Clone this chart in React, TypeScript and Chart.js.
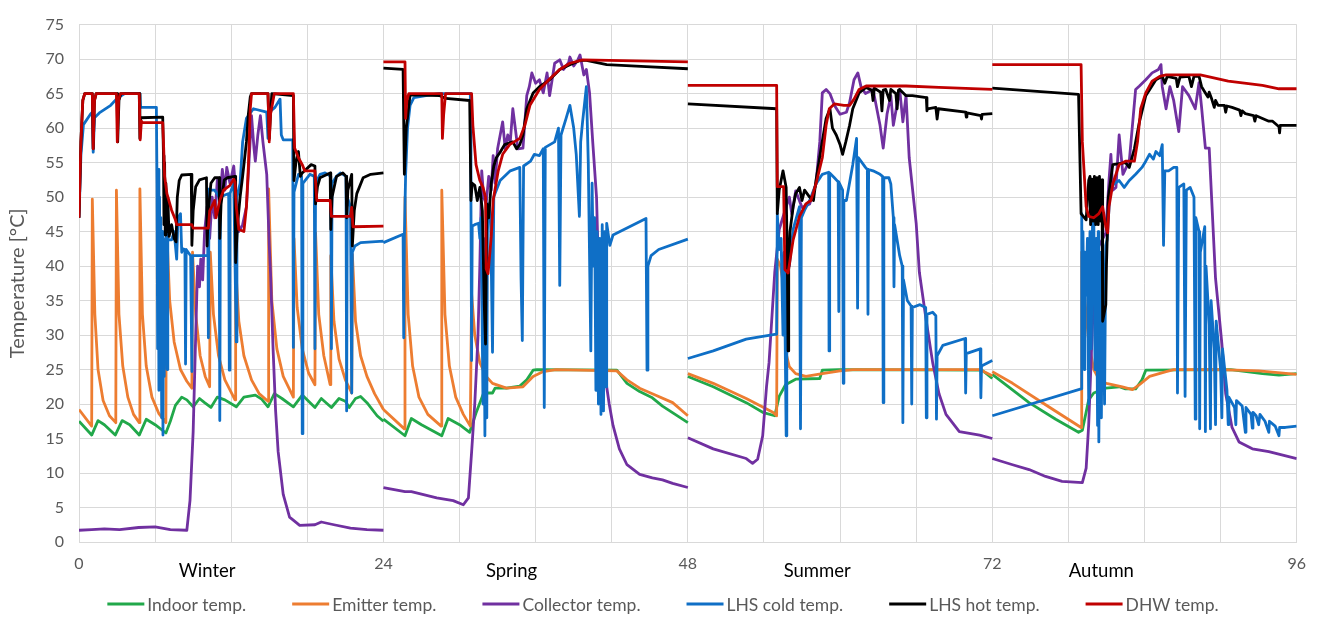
import React, { useEffect, useRef } from 'react';
import { Chart, registerables } from 'chart.js';

Chart.register(...registerables);

type P = [number, number];

// ---------- labels ----------
const seriesLabels = ['Indoor temp.', 'Emitter temp.', 'Collector temp.', 'LHS cold temp.', 'LHS hot temp.', 'DHW temp.'];
const seasonLabels = ['Winter', 'Spring', 'Summer', 'Autumn'];
const seasonLabelHours = [10.1, 34.1, 58.2, 80.6];
const xTickLabels = [0, 24, 48, 72, 96];

// ---------- WINTER (0-24 h) ----------
const indoorWinter: P[] = [[0,17.5],[1.0,15.5],[1.5,17.6],[2.0,17.0],[2.86,15.5],[3.4,17.6],[4.0,17.0],[4.75,15.5],[5.3,17.8],[6.0,17.0],[6.85,15.8],[7.2,17.5],[7.6,19.8],[8.1,21.0],[8.5,20.6],[9.0,19.6],[9.5,20.8],[9.9,20.2],[10.4,19.5],[10.9,21.0],[11.5,20.6],[12.4,19.6],[13.0,21.0],[13.9,21.3],[14.4,20.7],[14.9,19.6],[15.4,21.5],[16.0,20.8],[16.9,19.6],[17.6,21.3],[18.6,19.5],[19.1,20.8],[19.9,19.5],[20.5,20.8],[21.0,20.4],[21.3,19.5],[21.8,20.8],[22.2,21.1],[22.7,20.2],[23.5,18.3],[24,17.5]];
const emitterWinter: P[] = [[0,19.2],[1.0,16.8],[1.05,49.7],[1.25,33],[1.5,25],[1.9,20.5],[2.4,18.3],[2.9,17.3],[2.95,51],[3.15,33],[3.45,25.5],[3.85,21],[4.3,18.5],[4.75,17.3],[4.8,51.2],[5.0,33],[5.3,25.5],[5.75,21],[6.3,18.6],[6.85,17.3],[6.9,46],[7.15,35],[7.5,29],[8.0,25],[8.5,23.3],[8.9,22.3],[8.95,42],[9.2,33],[9.55,27],[9.95,24],[10.3,22.5],[10.35,42],[10.6,33],[11.0,27],[11.5,23.5],[12.3,20.6],[12.35,40],[12.6,32],[13.0,27],[13.6,23.5],[14.2,21.5],[14.9,20.4],[14.95,51.2],[15.2,35],[15.6,28],[16.1,24],[16.9,21],[16.95,44],[17.2,34],[17.6,28],[18.1,24.5],[18.6,22.8],[18.65,44.8],[18.9,33],[19.3,27],[19.8,22.8],[19.85,41.5],[20.1,32],[20.5,26.5],[21.0,23.5],[21.5,21.6],[21.55,41.7],[21.8,32],[22.2,27],[22.7,24],[23.3,21.5],[24,19.2]];
const collectorWinter: P[] = [[0,1.7],[1.0,1.8],[2,1.9],[3.2,1.8],[4.7,2.1],[6.0,2.2],[7.2,1.8],[8.5,1.7],[8.75,6],[9.0,16],[9.2,30],[9.35,40],[9.5,37],[9.6,41],[9.75,38],[9.9,45],[10.1,48.6],[10.3,44],[10.5,50],[10.7,47],[10.9,52.4],[11.1,49],[11.3,54],[11.5,51],[11.65,54.3],[11.9,52],[12.2,54.5],[12.4,50],[12.6,45],[12.9,46],[13.2,48.6],[13.4,55],[13.6,61.8],[13.8,57],[13.9,55.2],[14.1,59],[14.3,61.8],[14.5,58],[14.8,53.3],[15.0,43],[15.1,39],[15.3,28],[15.5,19],[15.7,13.1],[16.1,6.9],[16.6,3.6],[17.4,2.4],[18.6,2.5],[19.1,2.9],[20.1,2.5],[21.4,2.0],[22.7,1.8],[24,1.7]];
const coldWinter: P[] = [[0,47],[0.15,56],[0.35,60.5],[0.9,62],[1.05,62.3],[1.12,56.5],[1.22,61.5],[1.6,62.2],[2.5,63.3],[3.0,64.3],[3.6,65],[4.8,65],[4.85,63],[5.2,63],[6.1,63],[6.15,52],[6.2,28],[6.25,54],[6.3,22],[6.35,50],[6.4,26],[6.45,47],[6.52,18],[6.57,45],[6.62,15.5],[6.67,44],[6.72,24],[6.78,42],[6.85,30],[6.9,46],[6.95,25],[7.0,44],[7.1,43.8],[7.3,43.8],[7.5,45],[7.7,41],[7.8,47],[8.0,47.6],[8.1,42],[8.2,42.5],[8.35,42.4],[8.4,25.8],[8.45,42.4],[8.8,41.5],[8.9,24.7],[8.95,41.5],[9.3,41.5],[10.1,41.5],[10.15,51.2],[10.2,29.6],[10.25,51],[10.7,51],[11.05,50],[11.1,17.6],[11.15,50],[11.5,50.3],[11.8,50.5],[11.85,24.9],[11.9,50.5],[12.2,52],[12.4,29],[12.45,50],[12.7,52],[12.9,58],[13.2,61.4],[13.75,62.8],[14.8,62.3],[14.9,58.5],[15.0,62.3],[15.45,63],[15.85,64.2],[15.95,59],[16.1,58.3],[16.85,58.3],[16.9,28.2],[16.95,50.7],[17.3,53.3],[17.55,53],[17.6,15.7],[17.65,52],[18.2,53.3],[18.55,53],[18.6,28],[18.65,52],[19.0,53.3],[19.4,53.5],[19.85,53],[19.9,28],[19.95,52],[20.3,53],[20.6,53.5],[21.05,53],[21.1,19],[21.15,50],[21.4,48.6],[21.5,21.6],[21.55,42],[21.75,42.9],[22.2,43.4],[24,43.6]];
const hotWinter: P[] = [[0,47],[0.15,58],[0.3,64],[0.45,65],[1.05,65],[1.12,57],[1.22,64],[1.35,65],[3.0,65],[3.05,58],[3.15,64],[3.3,65],[4.75,65],[4.8,58.5],[4.87,61.5],[6.6,61.6],[6.66,56],[6.7,46],[6.75,55],[6.8,44.5],[6.85,52],[6.92,45],[7.0,50],[7.1,44.3],[7.3,46],[7.5,44],[7.65,43.5],[7.75,50],[7.9,52.4],[8.1,53.2],[8.85,53.3],[8.9,43],[9.0,48],[9.2,51.5],[9.5,52.5],[10.05,52.8],[10.1,42.9],[10.2,48],[10.4,52],[10.7,52.8],[11.05,52.8],[11.1,44],[11.2,49],[11.45,52.5],[11.7,52.8],[12.3,53],[12.35,40.5],[12.5,46],[12.7,50],[12.9,53],[13.2,58],[13.35,62],[13.5,64.5],[13.6,65],[14.9,65],[15.0,58.5],[15.1,62],[15.2,65],[16.9,64.7],[16.95,52.4],[17.1,55],[17.3,56.6],[17.45,53],[17.6,53.5],[18.3,54.7],[18.6,54.5],[18.65,49],[18.8,51.5],[19.0,52.8],[19.8,53.5],[19.85,45.3],[19.95,50],[20.3,53],[20.8,53.5],[21.05,53],[21.1,47],[21.2,51],[21.5,53.3],[21.55,42.9],[21.7,48],[21.9,50.5],[22.4,52.8],[23,53.3],[24,53.5]];
const dhwWinter: P[] = [[0,47],[0.15,58],[0.3,64],[0.45,65],[1.05,65],[1.12,57],[1.22,64],[1.35,65],[2.95,65],[3.02,58],[3.12,64],[3.25,65],[4.75,65],[4.82,58.3],[4.92,61],[5.0,60.8],[6.6,60.8],[6.66,58],[6.75,53],[6.93,50.5],[7.3,48.1],[7.6,46.7],[7.7,46],[8.9,46],[9.0,45.5],[10.2,45.5],[10.3,48],[10.7,49.5],[10.8,47],[11.1,49.5],[11.4,51],[11.9,51.7],[12.2,52.6],[12.3,52.2],[12.4,48.6],[12.6,45.3],[13.0,45],[13.2,48.6],[13.35,54.3],[13.5,62.8],[13.6,65],[14.9,65],[15.0,58],[15.1,62],[15.4,65],[16.9,65],[17.0,57.1],[17.3,55.7],[17.6,54.7],[17.8,53.8],[18.6,53.8],[18.75,49.5],[19.8,49.5],[19.9,47.2],[21.4,47.2],[21.5,48.5],[21.6,45.7],[24,45.8]];

// ---------- SPRING (24-48 h) ----------
const indoorSpring: P[] = [[24,17.8],[25.7,15.4],[26.2,17.9],[27,17.0],[28.6,15.4],[29.1,17.9],[30,17.0],[30.8,15.9],[31.3,18.7],[31.9,21.6],[32.6,21.6],[32.8,22.3],[33.7,22.3],[34.75,22.6],[35.3,23.5],[35.8,24.9],[36.1,25],[42.4,24.9],[43.2,23],[44.2,21.8],[45.2,20.9],[46.0,19.7],[48,17.3]];
const emitterSpring: P[] = [[24,19.2],[25.65,16.4],[25.7,50],[25.95,33],[26.3,25.5],[26.8,21],[27.5,18.5],[28.55,16.8],[28.6,51],[28.85,33],[29.2,25.5],[29.7,21],[30.3,18.5],[30.85,16.8],[30.95,36],[31.2,30],[31.6,26],[32.1,24],[32.6,23],[33.7,22.3],[35,22.5],[35.8,24],[36.6,24.7],[37.6,25],[42.4,24.8],[43.2,23.5],[44.2,22.3],[45.2,21.5],[46.8,20.2],[48,18.3]];
const collectorSpring: P[] = [[24,7.9],[25.7,7.3],[26.2,7.3],[28.2,6.4],[29.5,6.0],[30.3,5.4],[30.7,6.4],[30.95,13],[31.2,20],[31.45,29.6],[31.6,40],[31.75,53.8],[31.9,50],[32.1,49],[32.3,53],[32.5,51],[32.65,56],[32.8,52],[33.0,57],[33.4,60.9],[33.6,57],[33.8,59],[34.0,58],[34.2,62.8],[34.6,57],[35.0,57.1],[35.3,64.7],[35.5,66],[35.7,68],[36.0,66.5],[36.3,67],[36.6,65.1],[36.9,68],[37.1,64.7],[37.3,67],[37.5,69.4],[37.9,69.9],[38.2,68.5],[38.6,69.5],[38.7,70.3],[39.0,69],[39.3,69.8],[39.5,70.6],[39.8,67.7],[40.0,68.5],[40.25,65.1],[40.5,58],[40.8,50],[41.05,33],[41.4,25],[41.8,20],[42.1,16.9],[42.6,13.5],[43.2,11.2],[44.2,9.8],[45.2,9.3],[46.0,9.0],[46.8,8.5],[48,7.9]];
const coldSpring: P[] = [[24,43.4],[25.55,44.6],[25.6,29.6],[25.65,44],[25.75,53.3],[25.9,60],[26.1,63.3],[26.4,64.4],[27.7,64.8],[28.4,65],[30.85,65],[30.9,49.5],[30.95,26.3],[31.0,45.8],[31.2,46],[31.5,46.2],[31.6,44],[31.7,47],[31.85,20],[31.9,44],[32.0,15.4],[32.05,42],[32.15,18],[32.2,45],[32.3,49],[32.45,47],[32.6,27.5],[32.7,50],[32.8,50.5],[33.2,52.4],[34.0,53.8],[34.75,54.3],[34.85,38.2],[34.95,29.2],[35.05,54.5],[35.6,55.2],[35.9,56.2],[36.3,56],[36.6,57],[36.68,19.5],[36.76,57.2],[37.5,58],[37.8,60],[37.9,37.2],[38.0,59],[38.4,61.4],[38.7,63.3],[39.0,60],[39.2,56.2],[39.45,47.2],[39.55,58],[39.7,60.9],[40.0,66],[40.15,55],[40.35,27.7],[40.45,52],[40.55,40],[40.65,47],[40.75,22],[40.85,45],[40.95,20],[41.05,44],[41.15,18.5],[41.25,46],[41.35,19],[41.45,45],[41.55,22.5],[41.6,46.2],[41.85,43],[42.1,44.5],[44.7,46.9],[44.78,24.9],[44.85,40],[45.1,41.5],[45.7,42.4],[48,43.9]];
const hotSpring: P[] = [[24,68.7],[25.55,68.5],[25.65,53.3],[25.8,60],[26.1,64.8],[28.45,64.7],[28.9,64.3],[30.8,64],[30.9,49.5],[31.0,52],[31.2,51.7],[31.4,49.5],[31.6,51.4],[31.8,48],[31.95,34.4],[32.05,28.7],[32.15,49],[32.3,47],[32.5,52],[32.7,54.5],[32.9,55.7],[33.2,56.5],[33.55,57.6],[34.2,58],[34.5,57],[34.75,57.6],[35.0,59],[35.3,62.8],[35.8,65.1],[36.3,66],[37.1,67],[37.9,68.5],[38.7,69.2],[39.5,69.8],[40.0,69.8],[41.6,69.2],[44.7,68.9],[48,68.6]];
const dhwSpring: P[] = [[24,69.6],[25.7,69.6],[25.75,61.4],[25.85,64],[26.0,65],[28.6,65],[28.65,58.5],[28.75,62],[28.9,65],[30.95,65],[31.05,60.4],[31.3,54.7],[31.6,52.4],[31.85,51.4],[32.05,50],[32.1,39.6],[32.25,38.9],[32.5,44.3],[32.65,49.5],[33.05,53.8],[33.4,56.2],[33.95,57.6],[34.75,58.5],[35.15,60.4],[35.55,63.3],[36.3,65.6],[37.1,67.1],[37.9,68.5],[38.7,69.4],[39.7,69.9],[48,69.6]];

// ---------- SUMMER (48-72 h) ----------
const indoorSummer: P[] = [[48,24.0],[50,22.5],[52.6,20.2],[53.9,18.8],[54.85,18.3],[55.2,21.1],[55.7,22.8],[56.5,23.6],[58.4,23.7],[58.6,24.9],[59.9,25],[71.2,24.9],[72,23.7]];
const emitterSummer: P[] = [[48,24.4],[50,23],[52.6,20.8],[54.7,18.8],[55.0,18.3],[55.05,41],[55.3,40],[55.5,37.7],[55.75,27.3],[56.0,25.4],[56.5,24.4],[57.3,24],[58.6,24.4],[60.0,24.8],[61,25],[71,25],[72,24.1]];
const collectorSummer: P[] = [[48,15.1],[50,13.5],[52.6,12.1],[53.1,11.4],[53.5,12],[53.9,15.4],[54.2,22.5],[54.4,26],[54.85,39.1],[55.2,45.3],[55.75,48.6],[56.0,50],[56.2,47.5],[56.5,50.9],[57.0,48.5],[57.6,49],[58.1,51.9],[58.4,58],[58.6,65.1],[58.9,65.6],[59.2,65],[59.55,63.3],[60.0,62],[60.5,62.3],[60.75,63.7],[61.1,67],[61.4,68],[61.65,66],[62.0,65],[62.6,65.6],[63.15,60.4],[63.4,57.1],[63.7,62],[64.0,64.7],[64.2,60.4],[64.7,65.6],[64.95,60.9],[65.2,64.7],[65.45,55.7],[66.0,46.2],[66.25,39.1],[66.8,32],[67.3,26],[67.8,21.5],[68.35,18.5],[68.9,17.2],[69.4,16],[71.0,15.5],[72,15.0]];
const coldSummer: P[] = [[48,26.6],[50,27.7],[52.6,29.4],[54.85,30.1],[55.0,30.1],[55.05,47.6],[55.2,42.4],[55.35,44],[55.5,30],[55.6,42],[55.75,15.4],[55.8,42.9],[56.0,40],[56.3,45.3],[56.8,48.6],[56.88,16.4],[56.95,47],[57.2,48.1],[57.6,49.5],[58.1,51.9],[58.6,53.3],[59.1,53.6],[59.13,27.7],[59.18,53.5],[59.55,52.8],[59.85,52.2],[59.9,33.4],[59.95,52],[60.2,51],[60.25,23],[60.3,49.5],[60.5,49.5],[61.0,54.7],[61.3,58.5],[61.38,33.9],[61.45,55.7],[62.0,54.3],[62.15,54],[62.2,33],[62.25,54],[62.6,53.8],[63.15,53.3],[63.35,53],[63.4,20.2],[63.45,52.8],[63.85,52.8],[64.0,51.9],[64.2,47],[64.25,37],[64.3,46],[64.7,41.5],[64.9,40],[64.95,17.3],[65.0,38],[65.3,35],[65.6,34.2],[65.65,20],[65.7,34],[66.3,34.4],[66.75,34],[66.8,18],[66.85,33],[67.3,33.3],[67.55,32.8],[67.6,17.8],[67.65,27],[68.1,28.5],[69.85,29.5],[69.9,21.6],[69.95,27.3],[71.05,28],[71.1,20.9],[71.15,25.5],[72,26.3]];
const hotSummer: P[] = [[48,63.5],[55.0,62.8],[55.05,47.6],[55.2,51],[55.5,53.8],[55.75,51.4],[55.85,39.1],[55.9,27.7],[55.95,40],[56.05,45],[56.3,48.6],[56.5,50.5],[56.8,51.4],[57.0,49.5],[57.2,51],[57.6,50],[57.9,49.5],[58.1,52.4],[58.5,57],[58.9,61.4],[59.2,62.8],[59.4,60],[59.7,59],[60.0,57.6],[60.2,56.2],[60.45,58],[60.75,60.4],[61.0,62.8],[61.5,65.1],[62.05,65.9],[62.5,65.5],[62.6,64],[62.7,65.8],[63.2,65.2],[63.3,62.5],[63.4,65.5],[63.6,65.6],[63.9,64],[64.0,65.6],[64.4,65],[64.5,62.8],[64.6,65.5],[64.7,65.6],[65.2,64.7],[65.7,64.7],[66.8,64.4],[66.85,62.5],[66.9,62.8],[67.55,63],[67.65,61.3],[67.75,62.8],[69.9,62.3],[69.95,61.6],[70.0,62.2],[71.1,61.8],[71.15,61.3],[71.2,62],[72,62.1]];
const dhwSummer: P[] = [[48,66.2],[55.0,66.2],[55.05,51.5],[55.55,51.5],[55.65,39.5],[55.9,39],[56.3,43.8],[56.8,47.2],[57.3,49],[57.7,49.5],[58.1,51.9],[58.6,55.7],[58.9,60.4],[59.15,62.8],[59.55,63.5],[60.3,63.3],[60.75,63.3],[61.1,64.2],[61.5,65.6],[62.05,66.1],[65.2,66.1],[67.8,65.9],[72,65.6]];

// ---------- AUTUMN (72-96 h) ----------
const indoorAutumn: P[] = [[72,24.3],[74.9,20.2],[77,17.8],[78.8,15.9],[79.1,16.2],[79.6,20.6],[80.0,21.6],[80.95,22.3],[82.0,22.5],[82.5,22.2],[83.3,22.2],[83.8,23.5],[84.1,24.9],[90.8,25],[93.3,24.4],[94.6,24.2],[96,24.4]];
const emitterAutumn: P[] = [[72,24.7],[73.6,23],[76.2,19.9],[79.0,16.6],[79.05,42],[79.3,35],[79.6,29],[80.0,25],[80.5,23.3],[81,23],[82.25,22.5],[83.05,22.1],[83.6,22.8],[84.4,24],[85.7,24.7],[86.3,25],[90,25],[93,24.8],[96,24.3]];
const collectorAutumn: P[] = [[72,12.1],[73.6,11.2],[74.9,10.5],[76.2,9.5],[77.5,8.8],[79.1,8.6],[79.4,10.7],[79.6,17],[79.9,31.5],[80.2,40],[80.4,42.9],[80.95,44.8],[81.2,52.4],[81.35,56.2],[81.5,51],[81.75,51.4],[82.0,59],[82.3,53.3],[82.8,55.2],[83.3,65.6],[83.6,66.1],[84.1,67],[84.6,68],[85.1,68.5],[85.3,69.2],[85.4,66],[85.7,62.8],[86.0,66],[86.3,64],[86.7,59.5],[87.0,66],[87.5,64.7],[88.0,62.8],[88.3,66.6],[88.5,63],[88.8,57.1],[89.1,57.1],[89.35,47.6],[89.6,38.2],[90.1,28.7],[90.4,21.5],[90.9,16.6],[91.45,14.5],[92.5,13.5],[93.8,13.1],[96,12.1]];
const coldAutumn: P[] = [[72,18.3],[79.0,22.2],[79.05,47.6],[79.1,30],[79.15,45],[79.25,25],[79.3,42],[79.4,35.8],[79.5,44],[79.6,20],[79.7,45],[79.8,28],[79.9,46],[80.0,47.6],[80.1,25],[80.2,44],[80.3,16.9],[80.35,45],[80.4,14.5],[80.5,42],[80.6,18],[80.7,43],[80.85,20],[80.95,43],[81.05,43.8],[81.3,51.4],[81.6,51.9],[82.0,52.4],[82.4,51.4],[82.8,52.4],[83.3,53.3],[83.8,54.3],[84.1,55.2],[84.4,56.2],[84.7,55.5],[84.9,56.6],[85.2,56],[85.4,57.6],[85.5,43],[85.6,53.8],[85.9,53.8],[86.3,54.3],[86.55,54.3],[86.6,21.6],[86.7,51.4],[87.1,51.9],[87.2,21.1],[87.3,51],[87.6,51.4],[87.9,50],[88.0,17.8],[88.05,47],[88.3,45],[88.35,16.4],[88.4,42],[88.75,45.7],[88.8,16],[88.85,40],[89.1,31.5],[89.2,16.4],[89.25,35],[89.5,28],[89.6,17],[89.65,32],[90.0,25],[90.1,18],[90.15,28],[90.5,22],[90.6,17],[90.65,21],[91.1,19.5],[91.2,17],[91.25,20.5],[91.7,19.7],[91.95,15.9],[92.0,19.5],[92.4,18.5],[92.5,16.5],[92.55,18.8],[92.8,18.3],[93.0,17],[93.1,18.5],[93.5,17.5],[93.8,15.9],[93.85,17.5],[94.3,16.8],[94.6,15.4],[94.65,16.6],[95.1,16.6],[96,16.8]];
const hotAutumn: P[] = [[72,65.8],[78.8,64.9],[79.0,47.6],[79.4,46.7],[79.6,52.4],[79.7,53],[79.75,46],[79.85,52.6],[79.95,46.5],[80.05,53],[80.15,46],[80.25,52.8],[80.35,46],[80.45,53],[80.55,46.5],[80.65,52.5],[80.7,32],[80.95,34.4],[81.0,40],[81.15,50],[81.5,54.7],[82.5,55],[82.8,54.3],[83.2,57],[83.6,60.9],[84.1,64.7],[84.9,67],[85.4,67.5],[85.6,66.5],[85.8,67.5],[86.5,67.2],[86.6,66],[86.8,67.4],[87.5,67.5],[87.7,66],[87.9,67.5],[88.3,67.5],[88.5,66],[88.8,65.1],[89.0,64.5],[89.1,65.2],[89.3,64.2],[89.5,63],[89.6,64],[89.8,63.3],[90.3,63.3],[90.4,62.3],[90.5,63.2],[90.9,63],[91.5,62.6],[91.6,61.8],[91.7,62.5],[91.95,62.1],[92.6,61.8],[92.7,61],[92.8,61.8],[93.3,61.4],[93.8,61],[94.1,61],[94.6,60.2],[94.65,59.3],[94.7,60.4],[96,60.4]];
const dhwAutumn: P[] = [[72,69.2],[79.0,69.2],[79.1,58],[79.4,48.6],[79.6,47.2],[80.0,47],[80.4,47.6],[80.7,48.6],[80.95,45.7],[81.1,44.8],[81.2,48.6],[81.5,51.9],[82.0,54.7],[82.5,55.2],[83.2,55.2],[83.45,58],[83.7,62.8],[84.1,65.1],[84.6,66.8],[85.2,67.5],[85.7,67.7],[88.4,67.7],[90.6,66.8],[93.3,66.2],[94.6,65.7],[96,65.7]];

// ---------- styles ----------
const seriesColors = ['#21A84A', '#ED7D31', '#7030A0', '#0F6FC6', '#000000', '#C00000'];
const FONT = 'Lato, "Open Sans", sans-serif';

function joinSeasons(...segs: P[][]) {
  const out: { x: number; y: number | null }[] = [];
  segs.forEach((s, i) => {
    if (i > 0) out.push({ x: s[0][0], y: null });
    s.forEach(([x, y]) => out.push({ x, y }));
  });
  return out;
}

const seriesData = [
  joinSeasons(indoorWinter, indoorSpring, indoorSummer, indoorAutumn),
  joinSeasons(emitterWinter, emitterSpring, emitterSummer, emitterAutumn),
  joinSeasons(collectorWinter, collectorSpring, collectorSummer, collectorAutumn),
  joinSeasons(coldWinter, coldSpring, coldSummer, coldAutumn),
  joinSeasons(hotWinter, hotSpring, hotSummer, hotAutumn),
  joinSeasons(dhwWinter, dhwSpring, dhwSummer, dhwAutumn),
];

const extrasPlugin = {
  id: 'extras',
  afterDraw(chart: any) {
    const ctx = chart.ctx as CanvasRenderingContext2D;
    const xs = chart.scales.x;
    ctx.save();
    // season labels
    ctx.font = `18.5px ${FONT}`;
    ctx.fillStyle = '#000000';
    ctx.textAlign = 'center';
    ctx.textBaseline = 'middle';
    seasonLabels.forEach((t, i) => {
      ctx.fillText(t, xs.getPixelForValue(seasonLabelHours[i]), 571);
    });
    // legend
    ctx.font = `17.5px ${FONT}`;
    const lineLen = 37;
    const gap = 3;
    const itemGap = 46;
    const widths = seriesLabels.map((t) => lineLen + gap + ctx.measureText(t).width);
    const total = widths.reduce((a, b) => a + b, 0) + itemGap * (widths.length - 1);
    let x = 663 - total / 2;
    const y = 604;
    ctx.textAlign = 'left';
    seriesLabels.forEach((t, i) => {
      ctx.strokeStyle = seriesColors[i];
      ctx.lineWidth = 2.8;
      ctx.beginPath();
      ctx.moveTo(x, y);
      ctx.lineTo(x + lineLen, y);
      ctx.stroke();
      ctx.fillStyle = '#595959';
      ctx.fillText(t, x + lineLen + gap, y + 1);
      x += widths[i] + itemGap;
    });
    ctx.restore();
  },
};

export default function App() {
  const ref = useRef<HTMLCanvasElement | null>(null);
  useEffect(() => {
    if (!ref.current) return;
    const chart = new Chart(ref.current, {
      type: 'line',
      data: {
        datasets: seriesLabels.map((label, i) => ({
          label,
          data: seriesData[i],
          borderColor: seriesColors[i],
          backgroundColor: seriesColors[i],
          borderWidth: 2.8,
          pointRadius: 0,
          tension: 0,
          spanGaps: false,
          borderJoinStyle: 'round' as const,
          order: 6 - i,
        })),
      },
      options: {
        animation: false,
        responsive: false,
        maintainAspectRatio: false,
        parsing: false,
        normalized: true,
        layout: { padding: { top: 14, right: 20, left: 0, bottom: 0 } },
        plugins: { legend: { display: false }, tooltip: { enabled: false } },
        scales: {
          x: {
            type: 'linear',
            min: 0,
            max: 96,
            afterFit: (s: any) => { s.height = 75; },
            afterBuildTicks: (s: any) => {
              const t = [];
              for (let v = 0; v <= 96; v += 6) t.push({ value: v });
              s.ticks = t;
            },
            ticks: {
              autoSkip: false,
              maxRotation: 0,
              color: '#595959',
              font: { family: FONT, size: 16 },
              padding: 12,
              callback: (v: any) => (xTickLabels.includes(Number(v)) ? String(v) : ''),
            },
            grid: { color: '#d9d9d9', lineWidth: 1, drawTicks: false },
            border: { color: '#d9d9d9' },
          },
          y: {
            min: 0,
            max: 75,
            afterFit: (s: any) => { s.width = 79; },
            ticks: {
              stepSize: 5,
              color: '#595959',
              font: { family: FONT, size: 16 },
              padding: 15,
            },
            grid: { color: '#d9d9d9', lineWidth: 1, drawTicks: false },
            border: { color: '#d9d9d9' },
            title: {
              display: true,
              text: 'Temperature [°C]',
              color: '#595959',
              font: { family: FONT, size: 20 },
              padding: { top: 6, bottom: 0 },
            },
          },
        },
      },
      plugins: [extrasPlugin],
    });
    return () => chart.destroy();
  }, []);
  return (
    <div style={{ position: 'absolute', left: 0, top: 0, width: 1318, height: 617 }}>
      <canvas ref={ref} width={1318} height={617} style={{ width: 1318, height: 617, display: 'block' }} />
    </div>
  );
}
